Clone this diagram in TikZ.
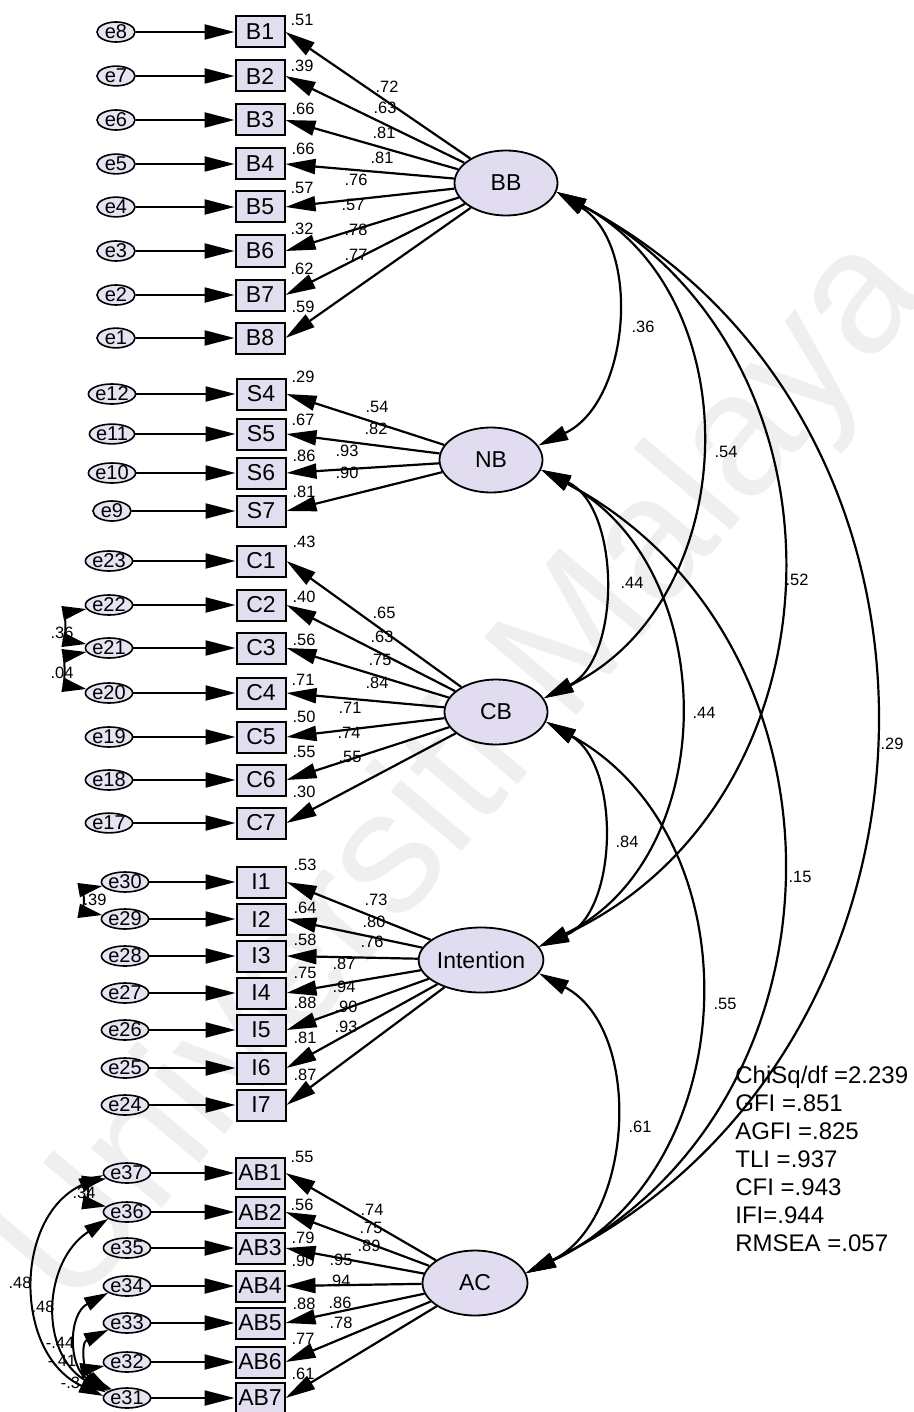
\documentclass[tikz,border=0pt]{standalone}
\usepackage{fontspec}
\setmainfont{Liberation Sans}
\usetikzlibrary{arrows.meta,shapes.geometric}
\definecolor{latfill}{RGB}{226,220,240}
\definecolor{obsfill}{RGB}{226,222,240}
\definecolor{errfill}{RGB}{230,228,242}
\definecolor{wmcol}{RGB}{239,239,239}
\begin{document}
\begin{tikzpicture}[x=0.5pt,y=0.5pt,
  lat/.style={ellipse, draw, line width=0.9pt, fill=latfill, minimum width=51.5pt, minimum height=32.5pt, inner sep=0pt, font=\fontsize{11.5}{11.5}\selectfont},
  obs/.style={rectangle, draw, line width=1pt, fill=obsfill, minimum width=24.5pt, minimum height=15.5pt, inner sep=0pt, font=\fontsize{11.5}{11.5}\selectfont},
  err/.style={ellipse, draw, line width=0.8pt, fill=errfill, minimum width=19pt, minimum height=8.5pt, inner sep=0pt, font=\fontsize{10}{10}\selectfont},
  lbl/.style={font=\fontsize{8.2}{8.2}\selectfont, inner sep=0pt},
  fit/.style={font=\fontsize{12}{12}\selectfont, inner sep=0pt, anchor=base west},
  tipa/.tip={Triangle[length=15pt,width=7.5pt]},
  reg/.style={line width=1.1pt, -tipa},
  cov/.style={line width=1.1pt, tipa-tipa, looseness=1.17},
  ecov/.style={line width=1pt, {Triangle[length=12pt,width=7pt]}-{Triangle[length=12pt,width=7pt]}},
]
\path[use as bounding box] (0,0) rectangle (914,-1412);
% watermark
\node[text=wmcol, font=\fontsize{87.5}{87.5}\selectfont, rotate=50, inner sep=0pt] (wm) at (467,-775) {Universiti Malaya};

% latent variables
\node[lat] (BB) at (506,-183) {BB};
\node[lat] (NB) at (491,-460) {NB};
\node[lat] (CB) at (496,-712) {CB};
\node[lat, minimum width=54pt] (Intention) at (481,-960) {Intention};
\node[lat, minimum width=52.5pt] (AC) at (475,-1283) {AC};

% BB group
\foreach \iN/\iY/\iE/\iRx/\iRy/\iR/\iLx/\iLy/\iL in {
  B1/32/e8/302/20/.51/387/87/.72,
  B2/76/e7/302/66/.39/385/108/.63,
  B3/120/e6/303/109/.66/384/133/.81,
  B4/164/e5/303/149/.66/382/158/.81,
  B5/207/e4/302/188/.57/356/180/.76,
  B6/251/e3/302/229/.32/353/205/.57,
  B7/295/e2/302/269/.62/356/230/.78,
  B8/338/e1/303/307/.59/356/255/.77}{
  \node[obs] (\iN) at (260,-\iY) {\iN};
  \node[err] (\iE) at (116,-\iY) {\iE};
  \draw[reg] (\iE) -- (\iN);
  \draw[reg] (BB) -- (\iN.east);
  \node[lbl] (r\iN) at (\iRx,-\iRy) {\iR};
  \node[lbl] (l\iN) at (\iLx,-\iLy) {\iL};
}
% NB group
\foreach \iN/\iY/\iE/\iRx/\iRy/\iR/\iLx/\iLy/\iL in {
  S4/394/e12/303/377/.29/377/407/.54,
  S5/434/e11/303/420/.67/376/429/.82,
  S6/473/e10/304/456/.86/347/451/.93,
  S7/511/e9/304/492/.81/347/473/.90}{
  \node[obs] (\iN) at (261,-\iY) {\iN};
  \node[err] (\iE) at (112,-\iY) {\iE};
  \draw[reg] (\iE) -- (\iN);
  \draw[reg] (NB) -- (\iN.east);
  \node[lbl] (r\iN) at (\iRx,-\iRy) {\iR};
  \node[lbl] (l\iN) at (\iLx,-\iLy) {\iL};
}
% CB group
\foreach \iN/\iY/\iE/\iRx/\iRy/\iR/\iLx/\iLy/\iL in {
  C1/561/e23/304/542/.43/384/613/.65,
  C2/605/e22/304/597/.40/382/637/.63,
  C3/648/e21/304/640/.56/380/660/.75,
  C4/693/e20/303/680/.71/377/683/.84,
  C5/737/e19/304/717/.50/350/708/.71,
  C6/780/e18/304/752/.55/349/733/.74,
  C7/823/e17/304/792/.30/350/757/.55}{
  \node[obs] (\iN) at (261,-\iY) {\iN};
  \node[err] (\iE) at (109,-\iY) {\iE};
  \draw[reg] (\iE) -- (\iN);
  \draw[reg] (CB) -- (\iN.east);
  \node[lbl] (r\iN) at (\iRx,-\iRy) {\iR};
  \node[lbl] (l\iN) at (\iLx,-\iLy) {\iL};
}
% Intention group
\foreach \iN/\iY/\iE/\iRx/\iRy/\iR/\iLx/\iLy/\iL in {
  I1/882/e30/305/865/.53/376/900/.73,
  I2/919/e29/305/908/.64/374/922/.80,
  I3/956/e28/305/940/.58/372/942/.76,
  I4/993/e27/305/973/.75/344/964/.87,
  I5/1030/e26/305/1003/.88/344/987/.94,
  I6/1068/e25/305/1038/.81/346/1007/.90,
  I7/1105/e24/305/1075/.87/346/1027/.93}{
  \node[obs] (\iN) at (261,-\iY) {\iN};
  \node[err] (\iE) at (125,-\iY) {\iE};
  \draw[reg] (\iE) -- (\iN);
  \draw[reg] (Intention) -- (\iN.east);
  \node[lbl] (r\iN) at (\iRx,-\iRy) {\iR};
  \node[lbl] (l\iN) at (\iLx,-\iLy) {\iL};
}
% AC group
\foreach \iN/\iY/\iE/\iRx/\iRy/\iR/\iLx/\iLy/\iL in {
  AB1/1173/e37/302/1157/.55/372/1210/.74,
  AB2/1212/e36/302/1205/.56/371/1228/.75,
  AB3/1248/e35/303/1238/.79/369/1246/.89,
  AB4/1286/e34/303/1261/.90/341/1260/.95,
  AB5/1323/e33/304/1304/.88/339/1281/.94,
  AB6/1362/e32/303/1339/.77/340/1303/.86,
  AB7/1398/e31/303/1374/.61/341/1323/.78}{
  \node[obs] (\iN) at (260,-\iY) {\iN};
  \node[err] (\iE) at (127,-\iY) {\iE};
  \draw[reg] (\iE) -- (\iN);
  \draw[reg] (AC) -- (\iN.east);
  \node[lbl] (r\iN) at (\iRx,-\iRy) {\iR};
  \node[lbl] (l\iN) at (\iLx,-\iLy) {\iL};
}

% latent covariances
\draw[cov, looseness=1.02] (BB.-10) to[out=-32,in=25] (NB.17);
\draw[cov, looseness=1.12] (BB.-10) to[out=-28,in=26] (CB.16);
\draw[cov] (BB.-10) to[out=-28,in=25] (Intention.13);
\draw[cov] (BB.-10) to[out=-28,in=26] (AC.11);
\draw[cov, looseness=0.98] (NB.-11) to[out=-25,in=27] (CB.16);
\draw[cov, looseness=1.1] (NB.-11) to[out=-28,in=26] (Intention.13);
\draw[cov] (NB.-11) to[out=-28,in=26] (AC.11);
\draw[cov, looseness=0.98] (CB.-11) to[out=-30,in=23] (Intention.13);
\draw[cov, looseness=1.12] (CB.-11) to[out=-29,in=25] (AC.11);
\draw[cov, looseness=1.02] (Intention.-13) to[out=-28,in=26] (AC.11);

\node[lbl] (c1) at (643,-327) {.36};
\node[lbl] (c2) at (726,-452) {.54};
\node[lbl] (c3) at (797,-580) {.52};
\node[lbl] (c4) at (892,-744) {.29};
\node[lbl] (c5) at (632,-583) {.44};
\node[lbl] (c6) at (704,-713) {.44};
\node[lbl] (c7) at (800,-877) {.15};
\node[lbl] (c8) at (627,-842) {.84};
\node[lbl] (c9) at (725,-1004) {.55};
\node[lbl] (c10) at (640,-1127) {.61};

% error covariance labels
\node[lbl] (d1) at (62,-633) {.36};
\node[lbl] (d2) at (62,-673) {.04};
\node[lbl] (d3) at (95,-900) {.39};
\node[lbl] (d4) at (84,-1193) {.34};
\node[lbl] (d5) at (20,-1283) {.48};
\node[lbl] (d6) at (43,-1307) {.48};
\node[lbl] (d7) at (60,-1343) {-.44};
\node[lbl] (d8) at (62,-1361) {-.41};
\node[lbl] (d9) at (75,-1383) {-.37};

% error covariances
\draw[ecov] (e22.190) to[out=190,in=170,looseness=1.5] (e21.170);
\draw[ecov] (e21.190) to[out=190,in=170,looseness=1.5] (e20.170);
\draw[ecov] (e30.190) to[out=190,in=170,looseness=1.5] (e29.170);
\draw[ecov] (e37.185) to[out=205,in=155,looseness=1.15] (e31.175);
\draw[ecov] (e36.200) to[out=213,in=150,looseness=1.15] (e31.165);
\draw[ecov] (e34.200) to[out=208,in=150,looseness=1.2] (e31.160);
\draw[ecov] (e33.200) to[out=205,in=150,looseness=1.3] (e31.155);
\draw[ecov] (e32.190) to[out=190,in=160,looseness=1.5] (e31.150);
\draw[ecov] (e37.195) to[out=190,in=170,looseness=1.5] (e36.165);

% fit indices
\node[fit] (fit1) at (735,-1083) {ChiSq/df =2.239};
\node[fit] (fit2) at (735,-1111) {GFI =.851};
\node[fit] (fit3) at (735,-1139) {AGFI =.825};
\node[fit] (fit4) at (735,-1167) {TLI =.937};
\node[fit] (fit5) at (735,-1195) {CFI =.943};
\node[fit] (fit6) at (735,-1223) {IFI=.944};
\node[fit] (fit7) at (735,-1251) {RMSEA =.057};
\end{tikzpicture}
\end{document}
